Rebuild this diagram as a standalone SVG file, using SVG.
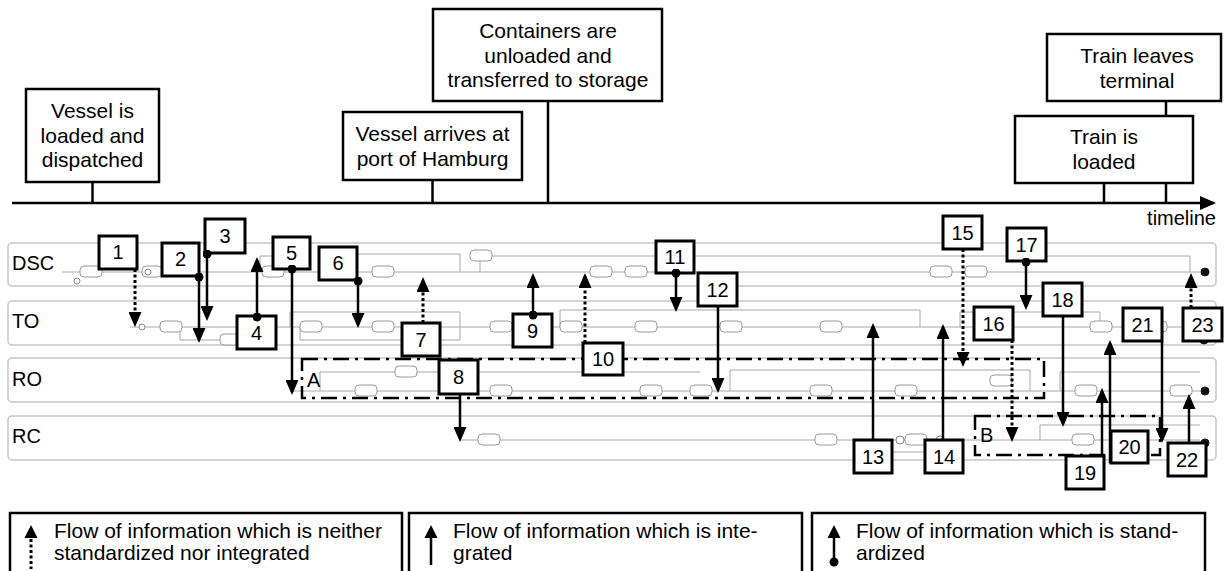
<svg xmlns="http://www.w3.org/2000/svg" width="1224" height="571" viewBox="0 0 1224 571">
<style>
text{font-family:"Liberation Sans",Arial,sans-serif;fill:#000}
.evt rect{fill:#fff;stroke:#000;stroke-width:2.5}
.evt text{font-size:21px;text-anchor:middle}
.tl{stroke:#000;stroke-width:2.5;fill:none}
.lane rect{fill:#fff;stroke:#c6c6c6;stroke-width:1.5}
.lane text{font-size:20px}
.pm line,.pm path{stroke:#a8a8a8;stroke-width:1;fill:none}
.pm rect{fill:#fff;stroke:#9a9a9a;stroke-width:1}
.pm circle{fill:#fff;stroke:#888;stroke-width:1}
.pm .end{fill:#111;stroke:#111}
.grp{fill:none;stroke:#000;stroke-width:2.5;stroke-dasharray:16 6 3 6}
.grp-label{font-size:20px}
.num rect{fill:#fff;stroke:#000;stroke-width:3}
.num text{font-size:20px;text-anchor:middle}
.c{stroke:#000;stroke-width:2.5;fill:none;marker-end:url(#ah)}
.d{stroke-dasharray:3 2.5;stroke-width:3}
.s{marker-start:url(#dot)}
.leg rect{fill:#fff;stroke:#000;stroke-width:2.5}
.leg text{font-size:21px}
</style>
<defs>
<marker id="ah" viewBox="0 0 15 13" refX="12" refY="6.5" markerWidth="15" markerHeight="13" markerUnits="userSpaceOnUse" orient="auto"><path d="M0,0 L15,6.5 L0,13 z" fill="#000"/></marker>
<marker id="dot" viewBox="0 0 10 10" refX="5" refY="5" markerWidth="9" markerHeight="9" markerUnits="userSpaceOnUse"><circle cx="5" cy="5" r="5" fill="#000"/></marker>
<marker id="tlah" viewBox="0 0 16 14" refX="14" refY="7" markerWidth="16" markerHeight="14" markerUnits="userSpaceOnUse" orient="auto"><path d="M0,0 L16,7 L0,14 z" fill="#000"/></marker>
</defs>

<g id="timeline">
<line class="tl" x1="12" y1="203" x2="1214" y2="203" marker-end="url(#tlah)"/>
<text x="1216" y="225" font-size="20" text-anchor="end">timeline</text>
<line class="tl" x1="92.5" y1="182" x2="92.5" y2="203"/>
<line class="tl" x1="432.5" y1="180" x2="432.5" y2="203"/>
<line class="tl" x1="548" y1="101" x2="548" y2="203"/>
<line class="tl" x1="1166" y1="101" x2="1166" y2="203"/>
<line class="tl" x1="1104" y1="183" x2="1104" y2="203"/>
</g>

<g id="event-vessel-loaded" class="evt">
<rect x="26" y="89" width="133" height="93"/>
<text x="92.5" y="118">Vessel is</text>
<text x="92.5" y="143">loaded and</text>
<text x="92.5" y="167">dispatched</text>
</g>
<g id="event-vessel-arrives" class="evt">
<rect x="343" y="112" width="179" height="68"/>
<text x="432.5" y="141">Vessel arrives at</text>
<text x="432.5" y="166">port of Hamburg</text>
</g>
<g id="event-containers-unloaded" class="evt">
<rect x="433" y="9" width="229" height="92"/>
<text x="548" y="38">Containers are</text>
<text x="548" y="63">unloaded and</text>
<text x="548" y="87">transferred to storage</text>
</g>
<g id="event-train-leaves" class="evt">
<rect x="1047" y="34" width="174" height="67"/>
<text x="1137" y="63">Train leaves</text>
<text x="1137" y="88">terminal</text>
</g>
<g id="event-train-loaded" class="evt">
<rect x="1015" y="116" width="178" height="67"/>
<text x="1104" y="144">Train is</text>
<text x="1104" y="169">loaded</text>
</g>

<g id="lane-DSC" class="lane"><rect x="8" y="243" width="1208" height="43" rx="4"/><text x="12" y="270">DSC</text></g>
<g id="lane-TO" class="lane"><rect x="8" y="301" width="1208" height="44" rx="4"/><text x="12" y="328">TO</text></g>
<g id="lane-RO" class="lane"><rect x="8" y="358" width="1208" height="44" rx="4"/><text x="12" y="386">RO</text></g>
<g id="lane-RC" class="lane"><rect x="8" y="416" width="1208" height="44" rx="4"/><text x="12" y="443">RC</text></g>

<g id="process-model" class="pm">
<line x1="62" y1="272" x2="1200" y2="272"/>
<path d="M260,272 V256 H300"/><path d="M330,272 V254 H460 V272"/><path d="M480,272 V256 H1190 V272"/>
<line x1="130" y1="327" x2="1200" y2="327"/>
<path d="M180,327 V340 H250"/><path d="M290,327 V312 H460 V327"/><path d="M560,327 V310 H920 V327"/><path d="M300,327 V340 H460 V327"/><path d="M960,327 V312 H1100 V327"/>
<line x1="292" y1="391" x2="1200" y2="391"/>
<path d="M320,391 V372 H700"/><path d="M730,391 V370 H1030 V391"/><path d="M1060,391 V372 H1200"/>
<line x1="460" y1="440" x2="1200" y2="440"/>
<path d="M880,440 V452 H960"/><path d="M1040,440 V425 H1200"/>
<rect x="80" y="266" width="22" height="11" rx="4"/><rect x="142" y="266" width="20" height="11" rx="4"/><rect x="262" y="266" width="22" height="11" rx="4"/><rect x="372" y="266" width="22" height="11" rx="4"/><rect x="470" y="250" width="22" height="11" rx="4"/><rect x="590" y="266" width="22" height="11" rx="4"/><rect x="625" y="266" width="22" height="11" rx="4"/><rect x="930" y="266" width="22" height="11" rx="4"/><rect x="965" y="266" width="22" height="11" rx="4"/>
<rect x="160" y="321" width="22" height="11" rx="4"/><rect x="220" y="334" width="22" height="11" rx="4"/><rect x="300" y="321" width="22" height="11" rx="4"/><rect x="372" y="321" width="22" height="11" rx="4"/><rect x="490" y="321" width="22" height="11" rx="4"/><rect x="560" y="321" width="22" height="11" rx="4"/><rect x="635" y="321" width="22" height="11" rx="4"/><rect x="720" y="321" width="22" height="11" rx="4"/><rect x="820" y="321" width="22" height="11" rx="4"/><rect x="980" y="321" width="22" height="11" rx="4"/><rect x="1090" y="321" width="22" height="11" rx="4"/><rect x="1145" y="321" width="22" height="11" rx="4"/>
<rect x="355" y="385" width="22" height="11" rx="4"/><rect x="395" y="366" width="22" height="11" rx="4"/><rect x="490" y="385" width="22" height="11" rx="4"/><rect x="640" y="385" width="22" height="11" rx="4"/><rect x="690" y="385" width="22" height="11" rx="4"/><rect x="810" y="385" width="22" height="11" rx="4"/><rect x="895" y="385" width="22" height="11" rx="4"/><rect x="990" y="375" width="22" height="11" rx="4"/><rect x="1075" y="385" width="22" height="11" rx="4"/><rect x="1170" y="385" width="22" height="11" rx="4"/>
<rect x="478" y="434" width="22" height="11" rx="4"/><rect x="815" y="434" width="22" height="11" rx="4"/><rect x="905" y="434" width="22" height="11" rx="4"/><rect x="1072" y="434" width="22" height="11" rx="4"/><rect x="1120" y="434" width="22" height="11" rx="4"/>
<circle cx="77" cy="281" r="3"/><circle cx="148" cy="272" r="3"/><circle cx="142" cy="327" r="3"/><circle cx="900" cy="440" r="4"/><circle cx="940" cy="440" r="4"/>
<circle class="end" cx="1205" cy="272" r="4"/><circle class="end" cx="1204" cy="340" r="4"/><circle class="end" cx="1205" cy="391" r="4"/><circle class="end" cx="1205" cy="443" r="4"/>
</g>

<g id="group-A"><rect class="grp" x="302" y="359" width="742" height="39"/><text class="grp-label" x="307" y="387">A</text></g>
<g id="group-B"><rect class="grp" x="975" y="416" width="185" height="39"/><text class="grp-label" x="980" y="442">B</text></g>

<g id="n1" class="num"><rect x="99" y="236" width="38" height="33"/><text x="118" y="259">1</text></g>
<g id="n2" class="num"><rect x="162" y="243" width="37" height="33"/><text x="180.5" y="266">2</text></g>
<g id="n3" class="num"><rect x="205" y="219" width="40" height="34"/><text x="225" y="243">3</text></g>
<g id="n4" class="num"><rect x="237" y="316" width="39" height="33"/><text x="256.5" y="340">4</text></g>
<g id="n5" class="num"><rect x="273" y="237" width="37" height="32"/><text x="291.5" y="260">5</text></g>
<g id="n6" class="num"><rect x="319" y="247" width="38" height="33"/><text x="338" y="270">6</text></g>
<g id="n7" class="num"><rect x="402" y="323" width="38" height="33"/><text x="421" y="347">7</text></g>
<g id="n8" class="num"><rect x="439" y="360" width="39" height="34"/><text x="458.5" y="384">8</text></g>
<g id="n9" class="num"><rect x="513" y="314" width="39" height="33"/><text x="532.5" y="338">9</text></g>
<g id="n10" class="num"><rect x="583" y="343" width="40" height="32"/><text x="603" y="366">10</text></g>
<g id="n11" class="num"><rect x="656" y="241" width="38" height="32"/><text x="675" y="264">11</text></g>
<g id="n12" class="num"><rect x="698" y="273" width="39" height="33"/><text x="717.5" y="297">12</text></g>
<g id="n13" class="num"><rect x="854" y="440" width="38" height="33"/><text x="873" y="464">13</text></g>
<g id="n14" class="num"><rect x="925" y="440" width="38" height="33"/><text x="944" y="464">14</text></g>
<g id="n15" class="num"><rect x="943" y="216" width="39" height="33"/><text x="962.5" y="240">15</text></g>
<g id="n16" class="num"><rect x="974" y="307" width="39" height="33"/><text x="993.5" y="331">16</text></g>
<g id="n17" class="num"><rect x="1007" y="228" width="39" height="33"/><text x="1026.5" y="252">17</text></g>
<g id="n18" class="num"><rect x="1043" y="283" width="39" height="33"/><text x="1062.5" y="307">18</text></g>
<g id="n19" class="num"><rect x="1066" y="456" width="38" height="33"/><text x="1085" y="480">19</text></g>
<g id="n20" class="num"><rect x="1111" y="431" width="37" height="32"/><text x="1129.5" y="454">20</text></g>
<g id="n21" class="num"><rect x="1123" y="308" width="39" height="33"/><text x="1142.5" y="332">21</text></g>
<g id="n22" class="num"><rect x="1168" y="443" width="38" height="33"/><text x="1187" y="467">22</text></g>
<g id="n23" class="num"><rect x="1183" y="308" width="39" height="33"/><text x="1202.5" y="332">23</text></g>

<g id="connectors">
<line class="c d" x1="135" y1="269" x2="135" y2="324"/>
<line class="c s" x1="199" y1="277" x2="199" y2="340"/>
<line class="c s" x1="207" y1="254" x2="207" y2="318"/>
<line class="c s" x1="257" y1="317" x2="257" y2="260"/>
<line class="c s" x1="292" y1="269" x2="292" y2="392"/>
<line class="c s" x1="358" y1="281" x2="358" y2="325"/>
<line class="c d" x1="423" y1="323" x2="423" y2="280"/>
<line class="c" x1="460" y1="394" x2="460" y2="439"/>
<line class="c s" x1="533" y1="315" x2="533" y2="276"/>
<line class="c d" x1="585" y1="343" x2="585" y2="276"/>
<line class="c s" x1="676" y1="273" x2="676" y2="309"/>
<line class="c" x1="718" y1="306" x2="718" y2="390"/>
<line class="c" x1="873" y1="440" x2="873" y2="326"/>
<line class="c" x1="943" y1="440" x2="943" y2="327"/>
<line class="c d" x1="963" y1="249" x2="963" y2="364"/>
<line class="c d" x1="1012" y1="340" x2="1012" y2="439"/>
<line class="c s" x1="1026" y1="262" x2="1026" y2="307"/>
<line class="c" x1="1063" y1="316" x2="1063" y2="424"/>
<line class="c" x1="1102" y1="456" x2="1102" y2="391"/>
<line class="c" x1="1110" y1="463" x2="1110" y2="343"/>
<line class="c" x1="1162" y1="341" x2="1162" y2="440"/>
<line class="c" x1="1189" y1="443" x2="1189" y2="397"/>
<line class="c d" x1="1191" y1="308" x2="1191" y2="276"/>
</g>

<g id="legend" class="leg">
<g id="legend-neither">
<rect x="10" y="513" width="392" height="70"/>
<path d="M31,525 L24.5,538 L37.5,538 z" fill="#000"/>
<line x1="31" y1="539" x2="31" y2="569" stroke="#000" stroke-width="3" stroke-dasharray="3 2.5"/>
<text x="54" y="538">Flow of information which is neither</text>
<text x="54" y="560">standardized nor integrated</text>
</g>
<g id="legend-integrated">
<rect x="409" y="513" width="393" height="70"/>
<path d="M431,525 L424.5,538 L437.5,538 z" fill="#000"/>
<line x1="431" y1="537" x2="431" y2="565" stroke="#000" stroke-width="2.5"/>
<text x="453" y="538">Flow of information which is inte-</text>
<text x="453" y="560">grated</text>
</g>
<g id="legend-standardized">
<rect x="812" y="513" width="393" height="70"/>
<path d="M834,525 L827.5,538 L840.5,538 z" fill="#000"/>
<line x1="834" y1="537" x2="834" y2="561" stroke="#000" stroke-width="2.5"/>
<circle cx="834" cy="562" r="4.5" fill="#000"/>
<text x="856" y="538">Flow of information which is stand-</text>
<text x="856" y="560">ardized</text>
</g>
</g>
</svg>
